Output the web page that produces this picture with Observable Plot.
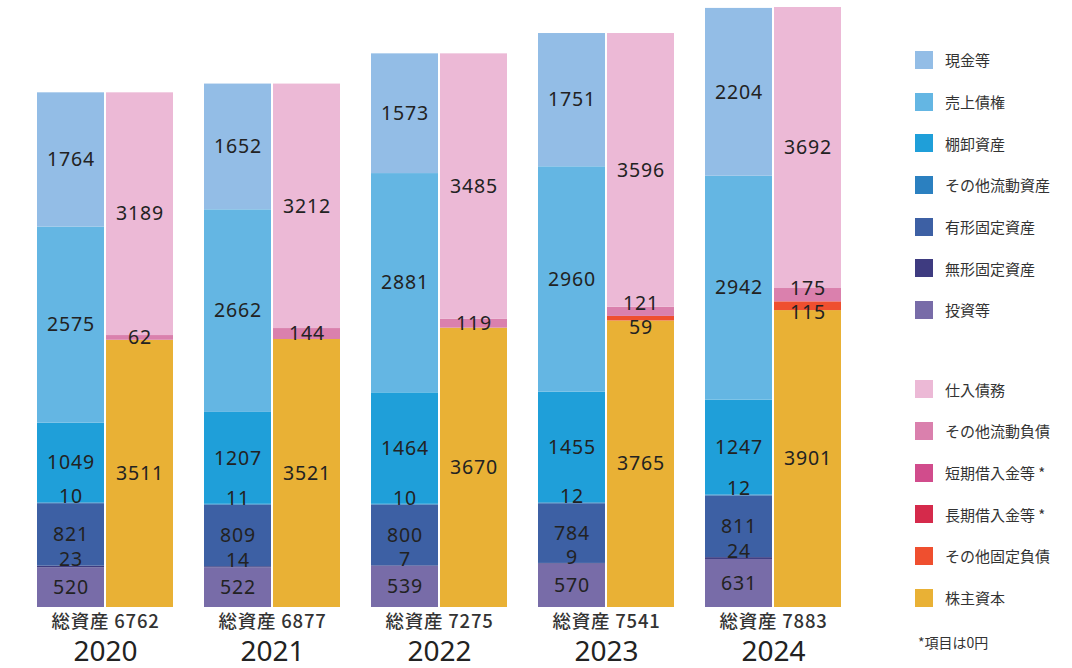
<!DOCTYPE html>
<html><head><meta charset="utf-8">
<script src="https://cdn.jsdelivr.net/npm/d3@7"></script>
<script src="https://cdn.jsdelivr.net/npm/@observablehq/plot@0.6"></script>
<style>
body{margin:0;background:#fff;font-family:"Noto Sans","Noto Sans CJK JP",sans-serif;}
#wrap{position:relative;width:1072px;height:668px;}
#chart{position:absolute;left:0;top:0;}
#legend{position:absolute;left:915px;top:39px;color:#333;font-size:15px;font-family:"Noto Sans CJK JP",sans-serif;}
.row{height:41.7px;display:flex;align-items:center;}
.sw{width:18px;height:18px;margin-right:12px;flex:none;}
.gap{height:37.5px;}
.note{margin-top:14px;margin-left:3px;font-size:14px;}
#chart g.num text{letter-spacing:0.8px;}
</style></head>
<body><div id="wrap"><div id="chart"></div><div id="legend"></div></div>
<script>
const years = ["2020","2021","2022","2023","2024"];
const totals = [6762,6877,7275,7541,7883];
// assets (top to bottom)
const assetCats = ["現金等","売上債権","棚卸資産","その他流動資産","有形固定資産","無形固定資産","投資等"];
const assetColors = ["#93bde6","#64b6e3","#1f9fd9","#2b80c0","#3d60a4","#3e3b80","#786ca8"];
const cash        = [1764,1652,1573,1751,2204];
const receivables = [2575,2662,2881,2960,2942];
const inventory   = [1049,1207,1464,1455,1247];
const otherCurA   = [10,11,10,12,12];
const tangible    = [821,809,800,784,811];
const intangible  = [23,14,7,9,24];
const investments = [520,522,539,570,631];
// liabilities & equity (top to bottom)
const liabCats = ["仕入債務","その他流動負債","短期借入金等","長期借入金等","その他固定負債","株主資本"];
const liabColors = ["#ecb9d6","#da80ad","#d14c8c","#d52a4b","#ef4f2f","#e9b135"];
const payables   = [3189,3212,3485,3596,3692];
const otherCurL  = [62,144,119,121,175];
const shortDebt  = [0,0,0,0,0];
const longDebt   = [0,0,0,0,0];
const otherFixL  = [0,0,0,59,115];
const equity     = [3511,3521,3670,3765,3901];

const assetSeries = [cash,receivables,inventory,otherCurA,tangible,intangible,investments];
const liabSeries = [payables,otherCurL,shortDebt,longDebt,otherFixL,equity];

const H = 668, MT = 7, MB = 61, W = 880;
const yMax = 7883;
const pxPerUnit = (H - MT - MB) / yMax;

function build(side, cats, series) {
  const out = [];
  years.forEach((yr, j) => {
    let acc = 0;
    for (let i = cats.length - 1; i >= 0; i--) {
      const v = series[i][j];
      out.push({year: yr, side, cat: cats[i], value: v, y1: acc, y2: acc + v});
      acc += v;
    }
  });
  return out;
}
const assets = build("A", assetCats, assetSeries);
const liabs = build("L", liabCats, liabSeries);

// label positions (data units): tiny asset segments get their label just above
const labels = [];
for (const d of assets) {
  if (d.value <= 0) continue;
  const h = d.value * pxPerUnit;
  if (h < 3) labels.push({...d, ly: d.y2 + 6 / pxPerUnit});
  else labels.push({...d, ly: (d.y1 + d.y2) / 2});
}
years.forEach(yr => {
  const ls = liabs.filter(d => d.year === yr && d.value > 0).map(d => ({...d, ly: (d.y1 + d.y2) / 2}));
  const minGap = 24 / pxPerUnit;
  for (let i = 1; i < ls.length; i++) {
    const gap = ls[i].ly - ls[i-1].ly;
    if (gap < minGap) {
      const push = (minGap - gap) / 2;
      ls[i].ly += push; ls[i-1].ly -= push;
    }
  }
  labels.push(...ls);
});

const totalsData = years.map((yr, j) => ({year: yr, total: totals[j]}));

const color = {domain: [...assetCats, ...liabCats], range: [...assetColors, ...liabColors]};

const chart = Plot.plot({
  width: W, height: H,
  marginTop: MT, marginBottom: MB, marginLeft: 37, marginRight: W - 841,
  style: {fontFamily: '"Noto Sans","Noto Sans CJK JP",sans-serif', background: "transparent"},
  x: {domain: years, range: [37, 841], paddingInner: 31/167, paddingOuter: 0, axis: null},
  y: {domain: [0, yMax], axis: null},
  color,
  marks: [
    Plot.barY(assets, {x: "year", y1: "y1", y2: "y2", fill: "cat", insetRight: 69, insetLeft: 0}),
    Plot.barY(liabs, {x: "year", y1: "y1", y2: "y2", fill: "cat", insetLeft: 69, insetRight: 0}),
    Plot.text(labels.filter(d => d.side === "A"), {x: "year", y: "ly", text: d => String(d.value), dx: -34.5, fontSize: 19.5, fill: "#222", className: "num"}),
    Plot.text(labels.filter(d => d.side === "L"), {x: "year", y: "ly", text: d => String(d.value), dx: 34.5, fontSize: 19.5, fill: "#222", className: "num"}),
    Plot.text(totalsData, {x: "year", y: () => 0, text: d => "総資産 " + d.total, dy: 15, fontSize: 18.5, fill: "#333", fontWeight: 500, fontFamily: '"Noto Sans CJK JP",sans-serif', className: "num"}),
    Plot.text(totalsData, {x: "year", y: () => 0, text: "year", dy: 44.5, fontSize: 28, fill: "#222"})
  ]
});
document.getElementById("chart").appendChild(chart);

const lg = document.getElementById("legend");
function addRow(name, col) {
  const r = document.createElement("div"); r.className = "row";
  const s = document.createElement("div"); s.className = "sw"; s.style.background = col;
  const t = document.createElement("span"); t.textContent = name;
  r.appendChild(s); r.appendChild(t); lg.appendChild(r);
}
assetCats.forEach((c, i) => addRow(c, assetColors[i]));
const g = document.createElement("div"); g.className = "gap"; lg.appendChild(g);
const starred = new Set(["短期借入金等","長期借入金等"]);
liabCats.forEach((c, i) => addRow(starred.has(c) ? c + " *" : c, liabColors[i]));
const n = document.createElement("div"); n.className = "note"; n.textContent = "*項目は0円"; lg.appendChild(n);
</script></body></html>
